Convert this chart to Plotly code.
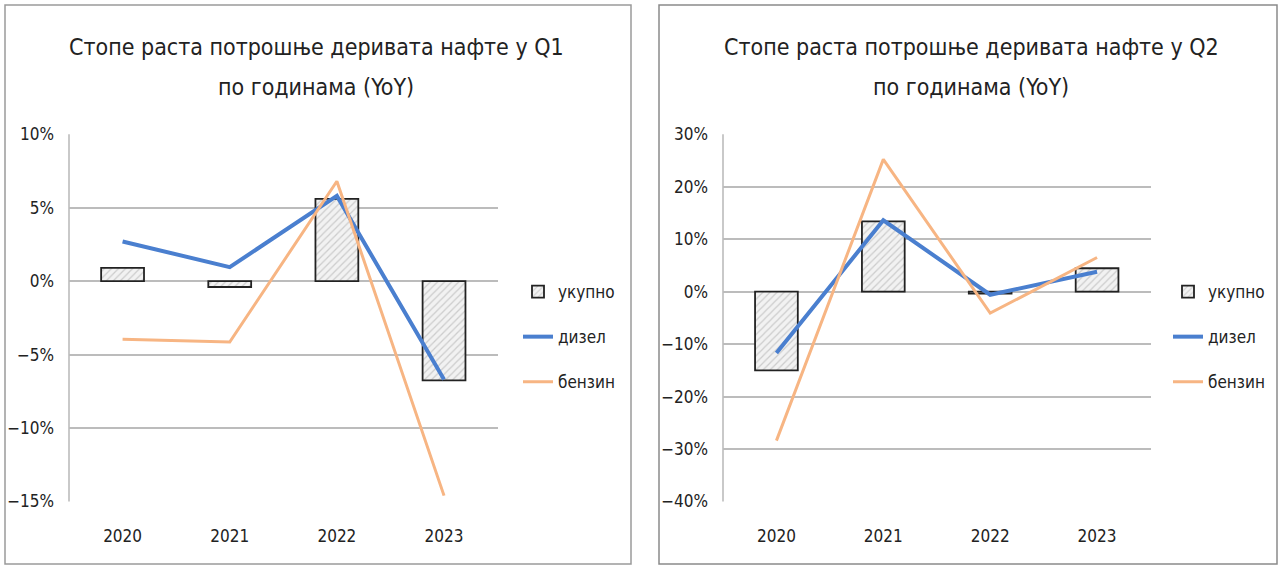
import plotly.graph_objects as go

years = ["2020", "2021", "2022", "2023"]

# Q1 growth rates (%)
q1_ukupno = [0.9, -0.4, 5.6, -6.75]
q1_dizel = [2.7, 0.95, 5.8, -6.7]
q1_benzin = [-3.95, -4.15, 6.8, -14.6]

# Q2 growth rates (%)
q2_ukupno = [-15.0, 13.4, -0.4, 4.45]
q2_dizel = [-11.7, 13.6, -0.6, 3.8]
q2_benzin = [-28.4, 25.2, -4.1, 6.5]

title_q1 = ["Стопе раста потрошње деривата нафте у Q1", "по годинама (YoY)"]
title_q2 = ["Стопе раста потрошње деривата нафте у Q2", "по годинама (YoY)"]

names = ["укупно", "дизел", "бензин"]

FONT = "Liberation Sans Narrow, DejaVu Sans Condensed, sans-serif"
W, H = 1278, 566
BLUE = "#4a7fcf"
ORANGE = "#f7b583"

fig = go.Figure()

def add_panel(xa, ya, legend, uk, dz, bz):
    fig.add_trace(go.Bar(
        x=years, y=uk, name=names[0], xaxis=xa, yaxis=ya, legend=legend,
        width=0.4, legendgroup=legend + "a",
        marker=dict(color="#f2f2f2", line=dict(color="#222222", width=1.8),
                    pattern=dict(shape="/", fgcolor="#a6a6a6", bgcolor="#f2f2f2",
                                 size=5, solidity=0.25)),
    ))
    fig.add_trace(go.Scatter(
        x=years, y=dz, name=names[1], mode="lines", xaxis=xa, yaxis=ya,
        legend=legend, legendgroup=legend + "b",
        line=dict(color=BLUE, width=4),
    ))
    fig.add_trace(go.Scatter(
        x=years, y=bz, name=names[2], mode="lines", xaxis=xa, yaxis=ya,
        legend=legend, legendgroup=legend + "c",
        line=dict(color=ORANGE, width=3),
    ))

add_panel("x", "y", "legend", q1_ukupno, q1_dizel, q1_benzin)
add_panel("x2", "y2", "legend2", q2_ukupno, q2_dizel, q2_benzin)

def px(x):
    return x / W

def py(y):
    return (H - y) / H

ydom = [py(501.5), py(134.2)]
axis_common = dict(
    showline=False, zeroline=False, automargin=False,
    tickfont=dict(family=FONT, size=17, color="#222222"),
)
legend_common = dict(
    xanchor="left", yanchor="top",
    font=dict(family=FONT, size=17, color="#222222"),
    itemwidth=30, tracegroupgap=20, bgcolor="rgba(0,0,0,0)",
)

fig.update_layout(
    width=W, height=H,
    margin=dict(l=0, r=0, t=0, b=0, pad=0, autoexpand=False),
    paper_bgcolor="white", plot_bgcolor="white",
    font=dict(family=FONT, color="#222222"),
    barmode="overlay",
    xaxis=dict(domain=[px(69), px(497.6)], anchor="y", type="category",
               showgrid=False, ticks="", ticklabelstandoff=22, **axis_common),
    yaxis=dict(domain=ydom, anchor="x", range=[-15, 10], dtick=5, ticksuffix="%",
               showgrid=True, gridcolor="#bcbcbc", gridwidth=1.6,
               ticks="", ticklabelstandoff=14,
               **axis_common),
    xaxis2=dict(domain=[px(723), px(1150.5)], anchor="y2", type="category",
                showgrid=False, ticks="", ticklabelstandoff=22, **axis_common),
    yaxis2=dict(domain=ydom, anchor="x2", range=[-40, 30], dtick=10, ticksuffix="%",
                showgrid=True, gridcolor="#bcbcbc", gridwidth=1.6,
                ticks="", ticklabelstandoff=14,
                **axis_common),
    legend=dict(x=px(518), y=py(274), **legend_common),
    legend2=dict(x=px(1168), y=py(274), **legend_common),
    showlegend=True,
)

# vertical axis lines (left edge of plot areas)
for xa_px in (69, 723):
    fig.add_shape(type="line", xref="paper", yref="paper",
                  x0=px(xa_px), x1=px(xa_px), y0=ydom[0], y1=ydom[1],
                  line=dict(color="#bcbcbc", width=1.6))

# panel frames
fig.add_shape(type="rect", xref="paper", yref="paper",
              x0=px(5), x1=px(631), y0=py(564), y1=py(5),
              line=dict(color="#9a9a9a", width=1.5), layer="below")
fig.add_shape(type="rect", xref="paper", yref="paper",
              x0=px(659), x1=px(1277), y0=py(564), y1=py(5),
              line=dict(color="#8a8a8a", width=1.5), layer="below")

# titles
for cx, lines in ((316, title_q1), (971, title_q2)):
    for i, t in enumerate(lines):
        fig.add_annotation(text=t, xref="paper", yref="paper",
                           x=px(cx), y=py(47 + 40 * i), xanchor="center", yanchor="middle",
                           showarrow=False,
                           font=dict(family=FONT, size=23, color="#222222"))

fig.write_html("out.html", config={"displayModeBar": False},
               post_script="document.body.style.margin='0';")
